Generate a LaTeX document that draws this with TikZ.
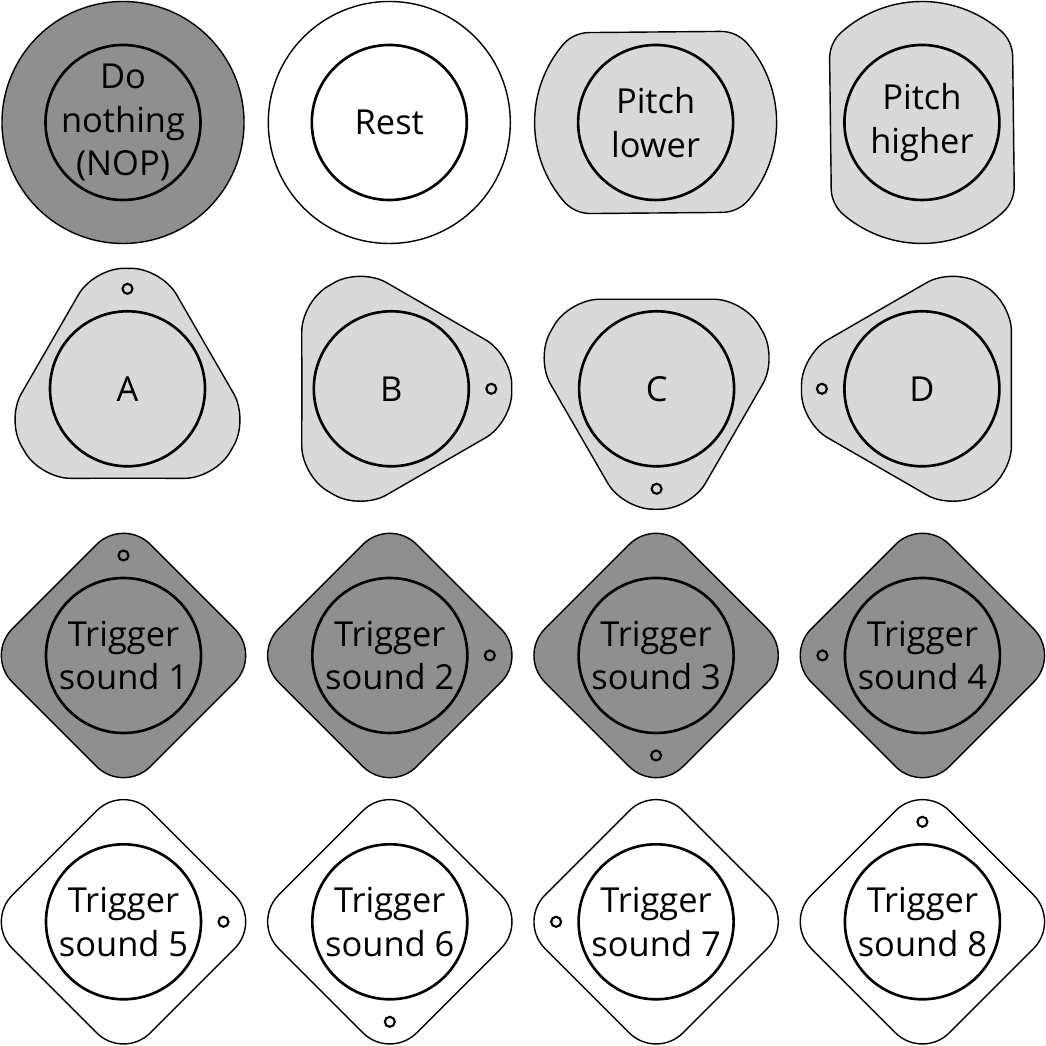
\documentclass[tikz,border=0pt]{standalone}
\usepackage{fontspec}
\setmainfont{Open Sans}
\definecolor{tiledark}{HTML}{8F8F8F}
\definecolor{tilelight}{HTML}{D9D9D9}
\pgfdeclarelayer{back}
\pgfsetlayers{back,main}
\tikzset{
node distance=2.663cm, % centre to centre of two tiles
pad/.style={circle, draw, minimum size=1.55cm, inner sep=0pt}, % the round button in the middle of a tile
hole/.style={circle, draw, line width=0.6pt, minimum size=0.1cm, inner sep=0pt, node distance=1cm}, % the small mark on the rim
caption/.style={align=center, font=\fontsize{9.8pt}{12.4pt}\selectfont},
dark/.style={fill=tiledark},
light/.style={fill=tilelight},
blank/.style={fill=white},
}

\begin{document}
\begin{tikzpicture}[line width=0.75pt]
                \useasboundingbox (0,0) rectangle (10.46,10.46);
                % buttons
                \node[pad, dark] (nop) at (1.23,9.235) {};
                \node[pad, blank, right of=nop] (rest) {};
                \node[pad, light, right of=rest] (low) {};
                \node[pad, light, right of=low] (high) {};
                \node[pad, light, below of=nop, xshift=0.045cm] (a) {};
                \node[pad, light, below of=rest, xshift=0.02cm] (b) {};
                \node[pad, light, below of=low, xshift=0.01cm] (c) {};
                \node[pad, light, below of=high] (d) {};
                \node[pad, dark] (s1) at (1.235,3.905) {};
                \node[pad, dark, right of=s1] (s2) {};
                \node[pad, dark, right of=s2] (s3) {};
                \node[pad, dark, right of=s3] (s4) {};
                \node[pad, blank, below of=s1] (s5) {};
                \node[pad, blank, right of=s5] (s6) {};
                \node[pad, blank, right of=s6] (s7) {};
                \node[pad, blank, right of=s7] (s8) {};
                % tiles
                \begin{pgfonlayer}{back}
                \draw[dark] (nop.center) circle[radius=1.21];
                \draw[blank] (rest.center) circle[radius=1.21];
                \draw[light, shift={(low.center)}, rotate=0.5] (-0.657,0.905) -- (0.657,0.905) arc[start angle=90, end angle=40.2, radius=0.35] arc[start angle=40.2, end angle=-40.2, radius=1.21] arc[start angle=-40.2, end angle=-90, radius=0.35] -- (-0.657,-0.905) arc[start angle=270, end angle=220.2, radius=0.35] arc[start angle=220.2, end angle=139.8, radius=1.21] arc[start angle=139.8, end angle=90, radius=0.35] -- cycle;
                \draw[light, shift={(high.center)}, rotate=90.7] (-0.648,0.915) -- (0.648,0.915) arc[start angle=90, end angle=41.1, radius=0.35] arc[start angle=41.1, end angle=-41.1, radius=1.21] arc[start angle=-41.1, end angle=-90, radius=0.35] -- (-0.648,-0.915) arc[start angle=270, end angle=221.1, radius=0.35] arc[start angle=221.1, end angle=138.9, radius=1.21] arc[start angle=138.9, end angle=90, radius=0.35] -- cycle;
                \draw[light, shift={(a.center)}, rounded corners=0.3cm] (0,-0.895) -- (314.3:1.251) -- (345.7:1.251) -- (74.3:1.251) -- (105.7:1.251) -- (194.3:1.251) -- (225.7:1.251) -- cycle;
                \draw[light, shift={(b.center)}, rotate=-90, rounded corners=0.3cm] (0,-0.895) -- (314.3:1.251) -- (345.7:1.251) -- (74.3:1.251) -- (105.7:1.251) -- (194.3:1.251) -- (225.7:1.251) -- cycle;
                \draw[light, shift={(c.center)}, rotate=180, rounded corners=0.3cm] (0,-0.895) -- (314.3:1.251) -- (345.7:1.251) -- (74.3:1.251) -- (105.7:1.251) -- (194.3:1.251) -- (225.7:1.251) -- cycle;
                \draw[light, shift={(d.center)}, rotate=90, rounded corners=0.3cm] (0,-0.895) -- (314.3:1.251) -- (345.7:1.251) -- (74.3:1.251) -- (105.7:1.251) -- (194.3:1.251) -- (225.7:1.251) -- cycle;
                \draw[dark, shift={(s1.center)}, rounded corners=0.38cm] (0:1.379) -- (90:1.379) -- (180:1.379) -- (270:1.379) -- cycle;
                \draw[dark, shift={(s2.center)}, rounded corners=0.38cm] (0:1.379) -- (90:1.379) -- (180:1.379) -- (270:1.379) -- cycle;
                \draw[dark, shift={(s3.center)}, rounded corners=0.38cm] (0:1.379) -- (90:1.379) -- (180:1.379) -- (270:1.379) -- cycle;
                \draw[dark, shift={(s4.center)}, rounded corners=0.38cm] (0:1.379) -- (90:1.379) -- (180:1.379) -- (270:1.379) -- cycle;
                \draw[blank, shift={(s5.center)}, rounded corners=0.38cm] (0:1.379) -- (90:1.379) -- (180:1.379) -- (270:1.379) -- cycle;
                \draw[blank, shift={(s6.center)}, rounded corners=0.38cm] (0:1.379) -- (90:1.379) -- (180:1.379) -- (270:1.379) -- cycle;
                \draw[blank, shift={(s7.center)}, rounded corners=0.38cm] (0:1.379) -- (90:1.379) -- (180:1.379) -- (270:1.379) -- cycle;
                \draw[blank, shift={(s8.center)}, rounded corners=0.38cm] (0:1.379) -- (90:1.379) -- (180:1.379) -- (270:1.379) -- cycle;
                \end{pgfonlayer}
                % marks
                \node[hole, light, above of=a] (ha) {};
                \node[hole, light, right of=b] (hb) {};
                \node[hole, light, below of=c] (hc) {};
                \node[hole, light, left of=d] (hd) {};
                \node[hole, dark, above of=s1] (h1) {};
                \node[hole, dark, right of=s2] (h2) {};
                \node[hole, dark, below of=s3] (h3) {};
                \node[hole, dark, left of=s4] (h4) {};
                \node[hole, blank, right of=s5] (h5) {};
                \node[hole, blank, below of=s6] (h6) {};
                \node[hole, blank, left of=s7] (h7) {};
                \node[hole, blank, above of=s8] (h8) {};
                % captions
                \node[caption] (tnop) at (nop) {Do\\nothing\\(NOP)};
                \node[caption] (trest) at (rest) {Rest};
                \node[caption] (tlow) at (low) {Pitch\\lower};
                \node[caption] (thigh) at (high) {Pitch\\higher};
                \node[caption] (ta) at (a) {A};
                \node[caption] (tb) at (b) {B};
                \node[caption] (tc) at (c) {C};
                \node[caption] (td) at (d) {D};
                \node[caption] (t1) at (s1) {Trigger\\sound 1};
                \node[caption] (t2) at (s2) {Trigger\\sound 2};
                \node[caption] (t3) at (s3) {Trigger\\sound 3};
                \node[caption] (t4) at (s4) {Trigger\\sound 4};
                \node[caption] (t5) at (s5) {Trigger\\sound 5};
                \node[caption] (t6) at (s6) {Trigger\\sound 6};
                \node[caption] (t7) at (s7) {Trigger\\sound 7};
                \node[caption] (t8) at (s8) {Trigger\\sound 8};
\end{tikzpicture}
\end{document}
